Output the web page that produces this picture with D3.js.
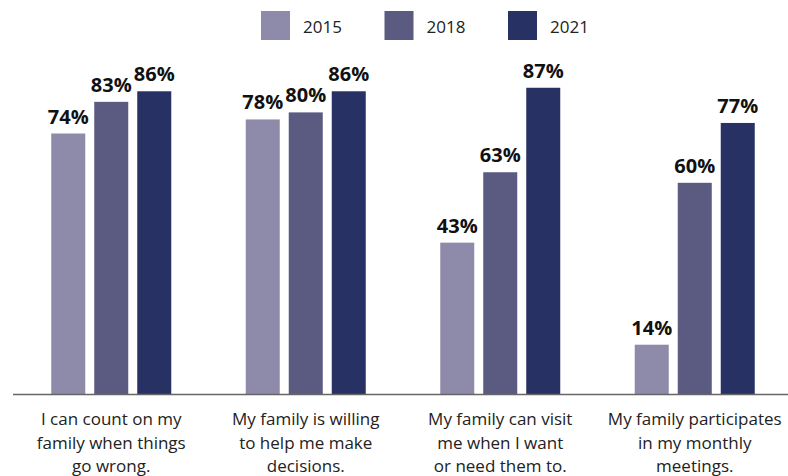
<!DOCTYPE html>
<html>
<head>
<meta charset="utf-8">
<script src="https://cdn.jsdelivr.net/npm/d3@7/dist/d3.min.js"></script>
<style>
  html, body { margin: 0; padding: 0; background: #fff; }
  svg { display: block; }
</style>
</head>
<body>
<svg id="chart" width="788" height="476"></svg>
<script>
const categories = [
  ["I can count on my", "family when things", "go wrong."],
  ["My family is willing", "to help me make", "decisions."],
  ["My family can visit", "me when I want", "or need them to."],
  ["My family participates", "in my monthly", "meetings."]
];
const years = ["2015", "2018", "2021"];
const values2015 = [74, 78, 43, 14];
const values2018 = [83, 80, 63, 60];
const values2021 = [86, 86, 87, 77];
const colors = ["#8e8aaa", "#5b5a80", "#283163"];

const series = [values2015, values2018, values2021];
const W = 788, H = 476;
const svg = d3.select("#chart");

const x0 = d3.scaleBand().domain(d3.range(categories.length)).range([14, 792])
  .paddingInner(0.383).paddingOuter(0.1915);
const x1 = d3.scaleBand().domain(years).range([0, x0.bandwidth()])
  .paddingInner(0.209).paddingOuter(0);
const y = d3.scaleLinear().domain([0, 100]).range([394, 42]);
const color = d3.scaleOrdinal().domain(years).range(colors);

const groups = svg.selectAll("g.grp").data(categories.map((c, i) => i)).join("g")
  .attr("class", "grp")
  .attr("transform", i => `translate(${x0(i)},0)`);

groups.selectAll("rect").data(i => years.map((yr, k) => ({yr, v: series[k][i]}))).join("rect")
  .attr("x", d => x1(d.yr))
  .attr("y", d => y(d.v))
  .attr("width", x1.bandwidth())
  .attr("height", d => y(0) - y(d.v))
  .attr("fill", d => color(d.yr));

groups.selectAll("text.val").data(i => years.map((yr, k) => ({yr, v: series[k][i]}))).join("text")
  .attr("class", "val")
  .attr("x", d => x1(d.yr) + x1.bandwidth() / 2)
  .attr("y", d => y(d.v) - 10)
  .attr("text-anchor", "middle")
  .attr("font-family", "'Open Sans', sans-serif")
  .attr("font-weight", "bold")
  .attr("font-size", 20)
  .attr("fill", "#111")
  .text(d => d.v + "%");

// baseline axis
const xAxis = d3.axisBottom(x0).tickSize(0).tickFormat("");
svg.append("g").attr("transform", `translate(0,${y(0) + 0.5})`).call(xAxis)
  .call(g => g.select(".domain").attr("d", `M13,0H788`).attr("stroke", "#666").attr("stroke-width", 1.5));

// category labels
const lineY = [424.5, 448.5, 472];
svg.selectAll("text.cat").data(categories).join("text")
  .attr("class", "cat")
  .attr("x", (d, i) => x0(i) + x0.bandwidth() / 2)
  .attr("text-anchor", "middle")
  .attr("font-family", "'Open Sans', sans-serif")
  .attr("font-size", 17)
  .attr("fill", "#222")
  .selectAll("tspan").data(d => d).join("tspan")
  .attr("x", function() { return d3.select(this.parentNode).attr("x"); })
  .attr("y", (d, j) => lineY[j])
  .text(d => d);

// legend
const lx = d3.scalePoint().domain(years).range([261, 508]);
const leg = svg.selectAll("g.leg").data(years).join("g")
  .attr("class", "leg")
  .attr("transform", d => `translate(${lx(d)},11)`);
leg.append("rect").attr("width", 29).attr("height", 29).attr("fill", d => color(d));
leg.append("text").attr("x", 42).attr("y", 22)
  .attr("font-family", "'Open Sans', sans-serif")
  .attr("font-size", 17)
  .attr("fill", "#222")
  .text(d => d);
</script>
</body>
</html>
